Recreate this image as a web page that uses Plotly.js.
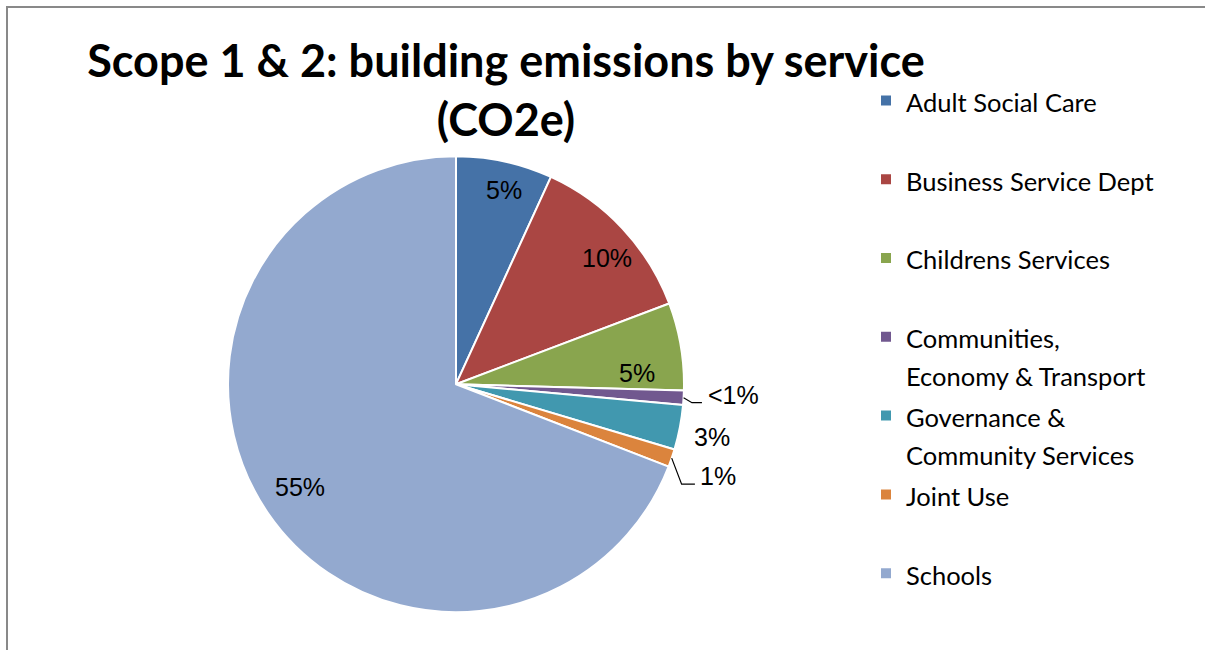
<!DOCTYPE html>
<html>
<head>
<meta charset="utf-8">
<script src="https://cdn.plot.ly/plotly-3.0.1.min.js"></script>
<style>
  html, body { margin: 0; padding: 0; background: #fff; overflow: hidden; }
  #chart { width: 1205px; height: 650px; position: relative; }
  #frame { position: absolute; left: 6px; top: 6px; width: 1400px; height: 900px;
           border-left: 2px solid #898989; border-top: 2px solid #898989; pointer-events: none; }
</style>
</head>
<body>
<div id="chart"></div>
<div id="frame"></div>
<script>
// ---- data ----
const categories = [
  "Adult Social Care",
  "Business Service Dept",
  "Childrens Services",
  "Communities,<br>Economy & Transport",
  "Governance &<br>Community Services",
  "Joint Use",
  "Schools"
];
const emissionsShare = [5.4, 9.8, 4.9, 0.8, 2.5, 1.0, 54.6];   // % of total (as labelled)
const shareLabels = ["5%", "10%", "5%", "<1%", "3%", "1%", "55%"];

// ---- style ----
const colors = ["#4572A7", "#AA4643", "#89A54E", "#71588F", "#4198AF", "#DB843D", "#93A9CF"];
const W = 1205, H = 650;
const cx = 456, cy = 384.2, R = 228;
const labelRadius = [0.877, 0.861, 0.794, 1.22, 1.144, 1.218, 0.821];
const labelShift  = [1.6, 3.2, 6.1, -1.2, 0.65, 0.5, 1.0];
const leader = {3: {dx: -32, dy: 7.7, h: 10}, 5: {dx: -23, dy: 7.6, h: 13.3}};

const px = x => x / W;
const py = y => 1 - y / H;

const sp = s => '<span style="font-size:25.5px">' + s + '</span>';
const legendLabels = categories.map(c => {
  const parts = c.split("<br>");
  const t = parts.map(sp).join("<br>");
  return parts.length < 2 ? t + "<br>&nbsp;" : t;
});

const total = emissionsShare.reduce((a, b) => a + b, 0);
let cum = 0;
const annotations = [];
const shapes = [];
emissionsShare.forEach((v, i) => {
  const mid = (cum + v / 2) / total * 360;
  cum += v;
  const th = (mid + labelShift[i]) * Math.PI / 180;
  const lx = cx + labelRadius[i] * R * Math.sin(th);
  const ly = cy - labelRadius[i] * R * Math.cos(th);
  annotations.push({
    x: px(lx), y: py(ly), xref: "paper", yref: "paper",
    text: shareLabels[i], showarrow: false, xanchor: "center", yanchor: "middle",
    font: {family: "Liberation Sans, Arial, sans-serif", size: 25, color: "#000"}
  });
  if (leader[i]) {
    const m = mid * Math.PI / 180;
    const sx = cx + R * Math.sin(m), sy = cy - R * Math.cos(m);
    const ex = lx + leader[i].dx, ey = ly + leader[i].dy;
    const bx = ex - leader[i].h;
    shapes.push({
      type: "path", xref: "paper", yref: "paper",
      path: `M ${px(sx)} ${py(sy)} L ${px(bx)} ${py(ey)} L ${px(ex)} ${py(ey)}`,
      line: {color: "#000", width: 1.2}
    });
  }
});

const trace = {
  type: "pie",
  labels: legendLabels,
  values: emissionsShare,
  sort: false,
  direction: "clockwise",
  rotation: 0,
  textinfo: "none",
  hoverinfo: "label+percent",
  marker: {colors: colors, line: {color: "#ffffff", width: 2}},
  domain: {x: [px(cx - R), px(cx + R)], y: [py(cy + R), py(cy - R)]}
};

const layout = {
  width: W, height: H,
  margin: {l: 0, r: 0, t: 0, b: 0},
  paper_bgcolor: "#fff",
  title: {
    text: "Scope 1 & 2: building emissions by service<br>(CO2e)",
    font: {family: "Lato, sans-serif", size: 45, color: "#000", weight: "bold"},
    x: px(506), xanchor: "center", xref: "paper",
    y: 1 - 77 / H, yanchor: "top", yref: "container"
  },
  showlegend: true,
  legend: {
    x: px(866), xanchor: "left", y: py(75), yanchor: "top",
    valign: "top",
    font: {family: "Lato, sans-serif", size: 29.15, color: "#000"},
    bgcolor: "rgba(0,0,0,0)", borderwidth: 0,
    itemclick: false
  },
  annotations: annotations,
  shapes: shapes
};

Plotly.newPlot("chart", [trace], layout, {displayModeBar: false, staticPlot: true});
</script>
</body>
</html>
